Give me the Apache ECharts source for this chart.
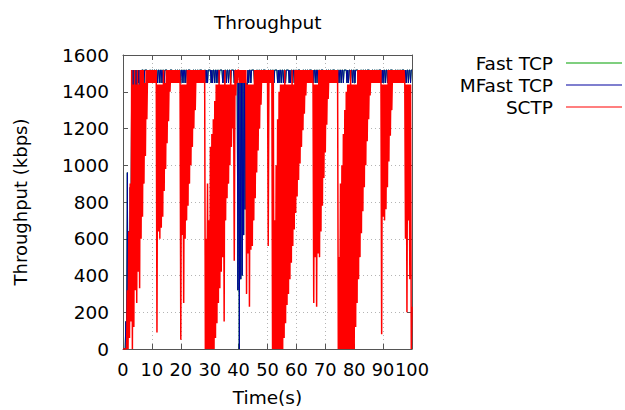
<!DOCTYPE html>
<html><head><meta charset="utf-8">
<script src="https://cdn.jsdelivr.net/npm/echarts@6/dist/echarts.min.js"></script>
<style>html,body{margin:0;padding:0;background:#fff}#c{width:625px;height:410px}</style>
</head><body><div id="c"></div>
<script>
// Throughput samples (kbps), one row per second, samples every 0.25 s
const sampleStepS = 0.25;
const seriesNames = ['Fast TCP', 'MFast TCP', 'SCTP'];
const xTickValues = [0,10,20,30,40,50,60,70,80,90,100];
const yTickValues = [0,200,400,600,800,1000,1200,1400,1600];

const sctpKbps = [
 [0,0,0,0],[0,0,320,0],[640,60,900,150],[1518,0,1440,120],[1518,320,1440,250],
 [1518,420,1440,330],[1518,600,1518,720],[1518,900,1448,1050],[1518,1250,1518,1448],[1518,1448,1518,1448],
 [1518,1448,1518,1448],[1518,1448,1518,90],[1440,640,1440,600],[1440,660,1440,720],[1518,860,1448,980],
 [1518,1120,1518,1240],[1518,1400,1518,1448],[1518,1448,1518,1448],[1518,1448,1518,1448],[1518,1448,1518,1448],
 [50,1440,620,1440],[250,1440,600,1440],[700,1518,780,1518],[900,1518,1000,1518],[1100,1518,1200,1518],
 [1300,1518,1448,1518],[1448,1518,1448,1518],[1448,1518,1448,1518],[1448,1518,0,600],[0,900,0,700],
 [0,1100,0,1170],[0,1250,0,1350],[60,1440,140,1440],[250,1518,330,1440],[420,1440,500,1440],
 [150,1518,700,1440],[820,1440,900,1440],[1000,1518,1100,1440],[1200,1440,480,1518],[1380,1518,1448,1518],
 [1518,1448,1518,1448],[1518,1448,1518,1448],[1518,1448,1518,300],[1440,520,1440,230],[1440,540,1440,560],
 [1440,700,1518,820],[1518,960,1518,1080],[1518,1200,1518,1330],[1518,1448,1518,1448],[1518,1448,1518,1448],
 [1518,560,1518,1448],[1518,1448,1518,0],[1518,0,700,0],[1000,0,1250,0],[1400,0,1440,0],
 [1440,0,1440,60],[1518,140,1440,240],[1440,300,1440,380],[1440,470,1518,560],[1440,650,1518,740],
 [1518,830,1518,920],[1518,1010,1518,1100],[1518,1190,1518,1280],[1518,1380,1518,1448],[1518,1448,1518,1448],
 [1518,1448,1518,1448],[250,1440,500,1440],[230,1440,520,1518],[500,1518,640,1518],[780,1518,930,1518],
 [1070,1518,1220,1518],[1360,1518,1448,1518],[1448,1518,1448,1518],[1448,1518,1448,1518],[1448,1518,0,500],
 [0,900,0,1000],[0,1170,0,1300],[0,1400,0,1440],[0,1440,0,1518],[0,1440,0,1440],
 [0,1440,120,1440],[250,1518,380,1518],[500,1518,630,1518],[750,1518,880,1518],[1000,1518,1130,1518],
 [1250,1518,1380,1518],[1448,1518,1448,1518],[1448,1518,1448,1518],[1448,1518,1448,1518],[1448,1518,80,1440],
 [720,1440,700,1440],[760,1440,880,1518],[1020,1518,1160,1518],[1300,1518,1448,1518],[1448,1518,1448,1518],
 [1448,1518,1448,1518],[1448,1518,1448,1518],[1448,1518,1448,600],[1440,200,1440,700],[1440,380,1440,0],
 [230]
];

const mfastTcpKbps = [
 [0,0,0,0],[150,0,960,100],[640,300,880,500],[1518,700,1518,1000],[1518,1100,1518,1250],
 [1518,1448,1518,1240],[1518,1448,1518,1518],[1518,1448,1518,1518],[1518,1518,1448,1518],[1448,1518,1518,1448],
 [1518,1518,1448,1518],[1518,1448,1518,1518],[1448,1518,1518,1448],[1518,1518,1448,1518],[1518,1448,1518,1518],
 [1518,1518,1448,1518],[1448,1518,1518,1518],[1518,1448,1518,1448],[1518,1518,1448,1518],[1518,1448,1518,1518],
 [1448,1518,1518,1448],[1518,1518,1448,1518],[1518,1448,1518,1518],[1518,1518,1448,1518],[1448,1518,1518,1448],
 [1518,1518,1448,1518],[1518,1448,1518,1518],[1518,1518,1448,1518],[1448,1518,1518,1448],[1518,1448,1518,1518],
 [1518,1518,1448,1518],[1448,1518,1518,1448],[1518,1518,1448,1518],[1518,1448,1518,1518],[1518,1518,1448,1518],
 [1448,1518,1518,1448],[1518,1518,1448,1518],[1518,1448,1518,1518],[1518,1518,1448,1518],[1518,1448,1518,320],
 [1448,0,1448,380],[1448,400,1448,620],[1448,760,1448,1040],[1448,1518,1448,1518],[1518,1448,1518,1518],
 [1518,1518,1448,1518],[1448,1518,1518,1448],[1518,1518,1448,1518],[1518,1448,1518,1518],[1518,1518,1448,1518],
 [1448,1518,1518,1448],[1518,1518,1448,1518],[1518,1448,1518,1518],[1518,1518,1448,1518],[1448,1518,1518,1448],
 [1518,1518,1448,1518],[1518,1448,1518,1518],[1518,1518,1448,1518],[1448,1518,1518,1448],[1518,1518,1448,1518],
 [1518,1448,1518,1518],[1518,1518,1448,1518],[1448,1518,1518,1448],[1518,1518,1448,1518],[1518,1448,1518,1518],
 [1518,1518,1448,1518],[1448,1518,1518,1448],[1518,1518,1448,1518],[1518,1448,1518,1518],[1518,1518,1448,1518],
 [1448,1518,1518,1448],[1518,1518,1448,1518],[1518,1448,1518,1518],[1518,1518,1448,1518],[1448,1518,1518,1448],
 [1518,1518,1448,1518],[1518,1448,1518,1518],[1518,1518,1448,1518],[1448,1518,1518,1448],[1518,1518,1448,1518],
 [1518,1448,1518,1518],[1518,1518,1448,1518],[1448,1518,1518,1448],[1518,1518,1448,1518],[1518,1448,1518,1518],
 [1518,1518,1448,1518],[1448,1518,1518,1448],[1518,1518,1448,1518],[1518,1448,1518,1518],[1518,1518,1448,1518],
 [1448,1518,1518,1448],[1518,1518,1448,1518],[1518,1448,1518,1518],[1518,1518,1448,1518],[1448,1518,1518,1448],
 [1518,1518,1448,1518],[1518,1448,1518,1518],[1518,1518,1448,1518],[1448,1518,1518,1448],[1518,1518,1448,1518],
 [1518]
];

// Fast TCP trace lies entirely underneath MFast TCP in the figure
const fastTcpKbps = mfastTcpKbps;

function toPoints(rows) {
  const pts = [];
  rows.forEach((row, sec) => row.forEach((v, j) => pts.push([sec + j * sampleStepS, v])));
  return pts;
}

const font = 'DejaVu Sans';
const frameColor = '#555';
const chart = echarts.init(document.getElementById('c'), null, {renderer: 'svg'});

function mkX(pos, main) {
  return {
    type: 'value', position: pos, min: 0, max: 100, interval: 10,
    axisLine: {show: true, onZero: false, lineStyle: {color: frameColor, width: 1}},
    axisTick: {show: true, inside: true, length: 5, lineStyle: {color: frameColor}},
    axisLabel: main ? {show: true, color: '#000', fontFamily: font, fontSize: 17.8, margin: 11,
      showMinLabel: true, hideOverlap: false, formatter: v => String(v)} : {show: false},
    splitLine: main ? {show: true, lineStyle: {color: '#b4b4b4', type: [1, 3], width: 1}} : {show: false},
    name: main ? 'Time(s)' : '', nameLocation: 'middle', nameGap: 39,
    nameTextStyle: {color: '#000', fontFamily: font, fontSize: 18.5}
  };
}
function mkY(pos, main) {
  return {
    type: 'value', position: pos, min: 0, max: 1600, interval: 200,
    axisLine: {show: true, onZero: false, lineStyle: {color: frameColor, width: 1}},
    axisTick: {show: true, inside: true, length: 5, lineStyle: {color: frameColor}},
    axisLabel: main ? {show: true, color: '#000', fontFamily: font, fontSize: 18.5, margin: 14,
      showMinLabel: true, showMaxLabel: true, formatter: v => String(v)} : {show: false},
    splitLine: main ? {show: true, lineStyle: {color: '#b4b4b4', type: [1, 3], width: 1}} : {show: false},
    name: main ? 'Throughput (kbps)' : '', nameLocation: 'middle', nameGap: 94, nameRotate: 90,
    nameTextStyle: {color: '#000', fontFamily: font, fontSize: 18}
  };
}

const colors = ['#00a000', '#0000a0', '#ff0000'];
const widths = [1, 1, 1.5];
const dataSets = [fastTcpKbps, mfastTcpKbps, sctpKbps];

chart.setOption({
  animation: false,
  backgroundColor: '#ffffff',
  textStyle: {fontFamily: font},
  title: {text: 'Throughput', left: 209, top: 8,
    textStyle: {fontFamily: font, fontSize: 18.5, fontWeight: 'normal', color: '#000'}},
  grid: {left: 123, top: 55, right: 213, bottom: 61, containLabel: false, outerBoundsMode: 'none'},
  legend: {
    orient: 'vertical', right: 3, top: 52, align: 'right', padding: 0,
    icon: 'path://M0,0H56V1H0Z',
    itemWidth: 56, itemHeight: 1, itemGap: 0,
    textStyle: {fontFamily: font, fontSize: 18.5, lineHeight: 22, color: '#000', padding: [0, 8, 0, 0]},
    data: seriesNames
  },
  xAxis: [mkX('bottom', true), mkX('top', false)],
  yAxis: [mkY('left', true), mkY('right', false)],
  series: dataSets.map((rows, i) => ({
    name: seriesNames[i], type: 'line', xAxisIndex: 0, yAxisIndex: 0,
    data: toPoints(rows), showSymbol: false, symbol: 'none', sampling: null,
    silent: true, z: 2 + i, color: colors[i],
    lineStyle: {color: colors[i], width: widths[i]},
    emphasis: {disabled: true}
  }))
});
</script></body></html>
